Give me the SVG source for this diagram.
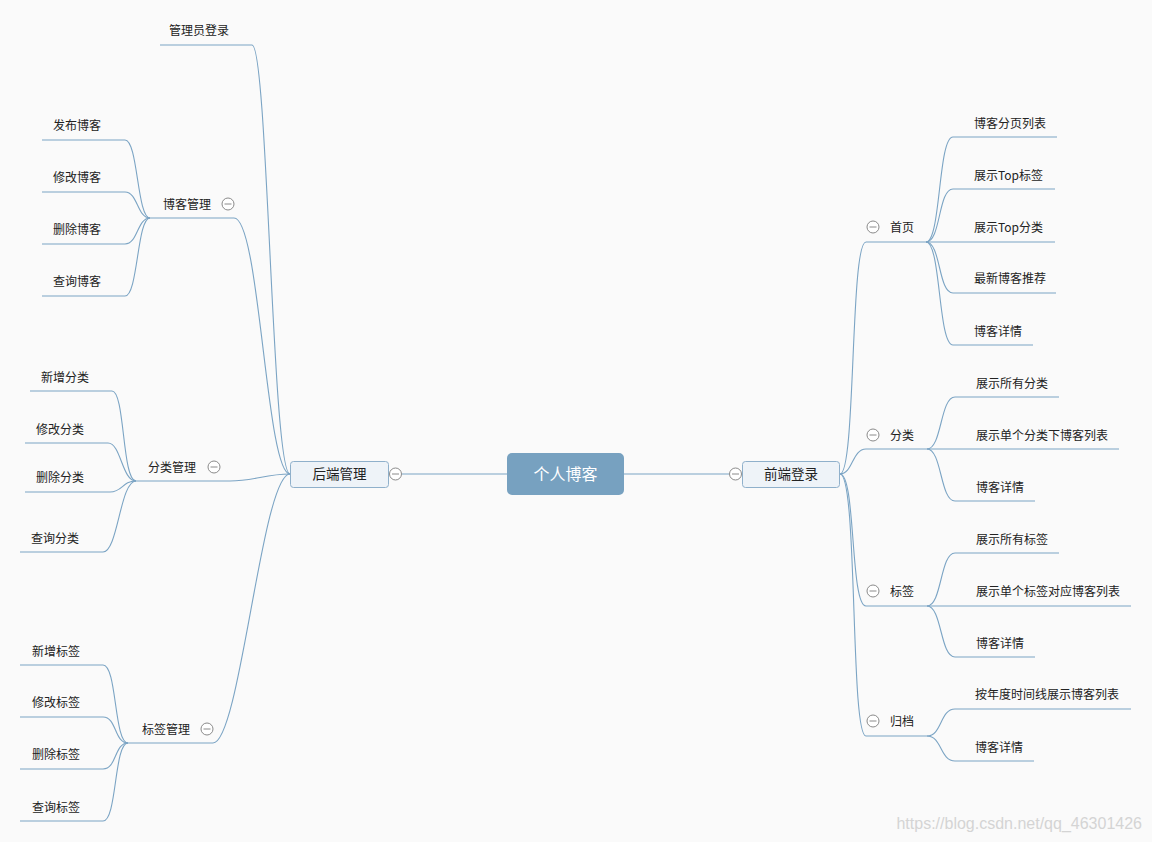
<svg xmlns="http://www.w3.org/2000/svg" width="1152" height="842" viewBox="0 0 1152 842">
<style>
.bg{fill:#fafafa}
.ln{fill:none;stroke:#7ba4c4;stroke-width:1.1}
.t{font-family:"Noto Sans CJK SC","Liberation Sans",sans-serif;font-size:12px;fill:#222}
.tm{font-family:"Noto Sans CJK SC","Liberation Sans",sans-serif;font-size:13.5px;fill:#222;text-anchor:middle}
.tc{font-family:"Noto Sans CJK SC","Liberation Sans",sans-serif;font-size:16px;fill:#ffffff;text-anchor:middle}
.box{fill:#eef3f8;stroke:#8fb0cb;stroke-width:1}
.wm{font-family:"Liberation Sans",Arial,sans-serif;font-size:16px;fill:#d4d4d4}
</style>
<defs>
<g id="col"><circle r="6" fill="#ffffff" stroke="#8a8a8a" stroke-width="1"/><line x1="-3.5" y1="0" x2="3.5" y2="0" stroke="#8a8a8a" stroke-width="1"/></g>
</defs>
<rect class="bg" x="0" y="0" width="1152" height="842"/>

<g id="connectors">
<!-- center -->
<line class="ln" x1="402" y1="474" x2="507" y2="474"/>
<line class="ln" x1="624" y1="474" x2="729" y2="474"/>
<!-- left main -->
<path class="ln" d="M290,474 C272,474 268,45 252,45 L160,45"/>
<path class="ln" d="M290,474 C266,474 260,218 234,218 L150,218"/>
<path class="ln" d="M290,474 C265,474 255,481 230,481 L136,481"/>
<path class="ln" d="M290,474 C262,474 240,743 213,743 L128,743"/>
<!-- blog mgmt children -->
<path class="ln" d="M150,218 C137,218 138,140 125,140 L42,140"/>
<path class="ln" d="M150,218 C137,218 138,192 125,192 L42,192"/>
<path class="ln" d="M150,218 C137,218 138,244 125,244 L42,244"/>
<path class="ln" d="M150,218 C137,218 138,296 125,296 L42,296"/>
<!-- category mgmt children -->
<path class="ln" d="M136,481 C122,481 125,391 112,391 L30,391"/>
<path class="ln" d="M136,481 C122,481 121,443 108,443 L25,443"/>
<path class="ln" d="M136,481 C122,481 123,492 110,492 L25,492"/>
<path class="ln" d="M136,481 C120,481 118,552 103,552 L20,552"/>
<!-- tag mgmt children -->
<path class="ln" d="M128,743 C114,743 117,665 103,665 L20,665"/>
<path class="ln" d="M128,743 C114,743 117,717 103,717 L20,717"/>
<path class="ln" d="M128,743 C114,743 117,769 103,769 L20,769"/>
<path class="ln" d="M128,743 C114,743 117,821 103,821 L20,821"/>
<!-- right main -->
<path class="ln" d="M840,474 C856,474 850,242 866,242 L926,242"/>
<path class="ln" d="M840,474 C853,474 852,449 866,449 L927,449"/>
<path class="ln" d="M840,474 C856,474 850,606 866,606 L927,606"/>
<path class="ln" d="M840,474 C858,474 850,736 866,736 L927,736"/>
<!-- home children -->
<path class="ln" d="M926,242 C941,242 938,137 953,137 L1057,137"/>
<path class="ln" d="M926,242 C941,242 938,189 953,189 L1055,189"/>
<path class="ln" d="M926,242 L1055,242"/>
<path class="ln" d="M926,242 C941,242 938,293 953,293 L1056,293"/>
<path class="ln" d="M926,242 C941,242 938,345 953,345 L1033,345"/>
<!-- category children -->
<path class="ln" d="M927,449 C942,449 940,397 955,397 L1059,397"/>
<path class="ln" d="M927,449 L1119,449"/>
<path class="ln" d="M927,449 C942,449 940,501 955,501 L1035,501"/>
<!-- tag children -->
<path class="ln" d="M927,606 C942,606 940,553 955,553 L1059,553"/>
<path class="ln" d="M927,606 L1131,606"/>
<path class="ln" d="M927,606 C942,606 940,657 955,657 L1035,657"/>
<!-- archive children -->
<path class="ln" d="M927,736 C942,736 940,709 955,709 L1131,709"/>
<path class="ln" d="M927,736 C942,736 940,761 955,761 L1034,761"/>
</g>

<g id="center"><rect x="507" y="453" width="117" height="42" rx="5" fill="#77a1c0"/><text class="tc" x="565.5" y="479.5">个人博客</text></g>
<g id="backend"><rect class="box" x="290.5" y="461.5" width="98" height="26" rx="3"/><text class="tm" x="339.5" y="479">后端管理</text><use href="#col" x="395.5" y="474"/></g>
<g id="frontend"><rect class="box" x="742.5" y="461.5" width="97" height="26" rx="3"/><text class="tm" x="791" y="479">前端登录</text><use href="#col" x="735.5" y="474"/></g>

<g id="admin-login"><text class="t" x="169" y="34.5">管理员登录</text></g>
<g id="blog-mgmt"><text class="t" x="163" y="208.5">博客管理</text><use href="#col" x="228" y="204"/></g>
<g id="blog-publish"><text class="t" x="53" y="130">发布博客</text></g>
<g id="blog-edit"><text class="t" x="53" y="182">修改博客</text></g>
<g id="blog-delete"><text class="t" x="53" y="234">删除博客</text></g>
<g id="blog-query"><text class="t" x="53" y="286">查询博客</text></g>

<g id="cat-mgmt"><text class="t" x="148" y="471.5">分类管理</text><use href="#col" x="214" y="467"/></g>
<g id="cat-add"><text class="t" x="41" y="381.5">新增分类</text></g>
<g id="cat-edit"><text class="t" x="36" y="433.5">修改分类</text></g>
<g id="cat-delete"><text class="t" x="36" y="481.5">删除分类</text></g>
<g id="cat-query"><text class="t" x="31" y="542.5">查询分类</text></g>

<g id="tag-mgmt"><text class="t" x="142" y="733.5">标签管理</text><use href="#col" x="207" y="729"/></g>
<g id="tag-add"><text class="t" x="32" y="655.5">新增标签</text></g>
<g id="tag-edit"><text class="t" x="32" y="706.5">修改标签</text></g>
<g id="tag-delete"><text class="t" x="32" y="758.5">删除标签</text></g>
<g id="tag-query"><text class="t" x="32" y="811.5">查询标签</text></g>

<g id="home"><use href="#col" x="873" y="227"/><text class="t" x="890" y="231.5">首页</text></g>
<g id="home-list"><text class="t" x="974" y="127.5">博客分页列表</text></g>
<g id="home-toptag"><text class="t" x="974" y="179.5">展示Top标签</text></g>
<g id="home-topcat"><text class="t" x="974" y="231.5">展示Top分类</text></g>
<g id="home-latest"><text class="t" x="974" y="282.5">最新博客推荐</text></g>
<g id="home-detail"><text class="t" x="974" y="335.5">博客详情</text></g>

<g id="category"><use href="#col" x="873" y="435"/><text class="t" x="890" y="439.5">分类</text></g>
<g id="cat-all"><text class="t" x="976" y="387.5">展示所有分类</text></g>
<g id="cat-single"><text class="t" x="976" y="439.5">展示单个分类下博客列表</text></g>
<g id="cat-detail"><text class="t" x="976" y="491.5">博客详情</text></g>

<g id="tag"><use href="#col" x="873" y="591"/><text class="t" x="890" y="595.5">标签</text></g>
<g id="tag-all"><text class="t" x="976" y="543.5">展示所有标签</text></g>
<g id="tag-single"><text class="t" x="976" y="595.5">展示单个标签对应博客列表</text></g>
<g id="tag-detail"><text class="t" x="976" y="647.5">博客详情</text></g>

<g id="archive"><use href="#col" x="873" y="721"/><text class="t" x="890" y="725.5">归档</text></g>
<g id="archive-timeline"><text class="t" x="975" y="698.5">按年度时间线展示博客列表</text></g>
<g id="archive-detail"><text class="t" x="975" y="751.5">博客详情</text></g>

<text class="wm" x="1142" y="829" text-anchor="end">https://blog.csdn.net/qq_46301426</text>
</svg>
